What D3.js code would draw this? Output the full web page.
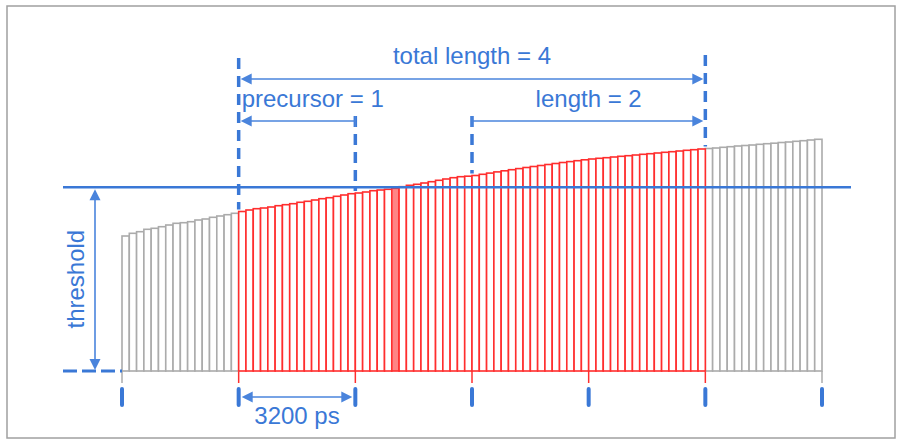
<!DOCTYPE html>
<html>
<head>
<meta charset="utf-8">
<script src="https://cdn.jsdelivr.net/npm/d3@7"></script>
<style>
  html, body { margin: 0; padding: 0; background: #fff; }
  svg { display: block; }
  text { font-family: "Liberation Sans", Arial, sans-serif; }
</style>
</head>
<body>
<svg id="chart" width="902" height="441"></svg>
<script>
// ---- data ----
const barHeights = [
  135, 137.7, 139.3, 141.7, 142.7, 144.3, 146, 147.7, 148.3, 149.3, 151, 152, 153.7, 155, 156.3, 157.7,
  159.5, 161, 162.3, 163, 164, 165.3, 166.3, 167.3, 168.7, 169.7, 171, 172.3, 173.3, 174.7, 176, 177.3,
  178, 179, 180.3, 181, 181.7, 182.7, 184.3, 185.7, 186.7, 188, 189.3, 190.7, 192, 193.3, 194.3, 194.8,
  195.5, 196.7, 197.9, 199.1, 200.2, 201.3, 202.4, 203.5, 204.5, 205.5, 206.5, 207.5, 208.5, 209.4, 210.3, 211.2,
  212, 212.7, 213.3, 214, 214.7, 215.3, 216, 216.7, 217.3, 218, 218.7, 219.3, 220, 220.7, 221.3, 222,
  222.5, 223, 223.7, 224.3, 225, 225.5, 226, 226.7, 227.3, 227.8, 228.5, 229, 229.7, 230.3, 231, 231.7
];
const thresholdValue = 183.7;
const tickIndices = [0, 16, 32, 48, 64, 80, 96];
const windowRange = [16, 80];      // red bars (total length)
const precursorRange = [16, 32];
const lengthRange = [48, 80];
const crossingIndex = 37;
const labels = {
  total: "total length = 4",
  precursor: "precursor = 1",
  length: "length = 2",
  period: "3200 ps",
  threshold: "threshold"
};

// ---- drawing ----
const svg = d3.select("#chart");
const W = 902, H = 441;
const BLUE = "#3a78d6", ARROW = "#4a84dc", RED = "#ff2e2e", GRAY = "#ababab";

svg.append("rect").attr("x", 7).attr("y", 6).attr("width", 888).attr("height", 432)
  .attr("fill", "#fff").attr("stroke", "#a0a0a0").attr("stroke-width", 1.5);

const x = d3.scaleLinear().domain([0, barHeights.length]).range([122, 822]);
const y = d3.scaleLinear().domain([0, 250]).range([371, 121]);
const base = y(0);

const inWindow = i => i >= windowRange[0] && i < windowRange[1];
const bars = barHeights.map((h, i) => ({ h, i, red: inWindow(i) }));

// tick extension lines under baseline
const tickColor = i => (i >= windowRange[0] && i <= windowRange[1]) ? RED : GRAY;
svg.append("g").selectAll("line").data(tickIndices).join("line")
  .attr("x1", d => x(d)).attr("x2", d => x(d))
  .attr("y1", base).attr("y2", base + 12)
  .attr("stroke", d => tickColor(d)).attr("stroke-width", 1.5);

// bars: gray first, then red
const gBars = svg.append("g");
gBars.selectAll("rect.gray").data(bars.filter(d => !d.red)).join("rect")
  .attr("class", "gray")
  .attr("x", d => x(d.i)).attr("width", d => x(d.i + 1) - x(d.i))
  .attr("y", d => y(d.h)).attr("height", d => base - y(d.h))
  .attr("fill", "#fff").attr("stroke", GRAY).attr("stroke-width", 1.6);
gBars.selectAll("rect.red").data(bars.filter(d => d.red)).join("rect")
  .attr("class", "red")
  .attr("x", d => x(d.i)).attr("width", d => x(d.i + 1) - x(d.i))
  .attr("y", d => y(d.h)).attr("height", d => base - y(d.h))
  .attr("fill", d => d.i === crossingIndex ? "#ff8585" : "#fff")
  .attr("stroke", RED).attr("stroke-width", 1.6);

// threshold line
const ty = y(thresholdValue);
svg.append("line").attr("x1", 63).attr("x2", 851).attr("y1", ty).attr("y2", ty)
  .attr("stroke", BLUE).attr("stroke-width", 2.5);
// dashed baseline on left
svg.append("line").attr("x1", 63).attr("x2", x(0)).attr("y1", base).attr("y2", base)
  .attr("stroke", BLUE).attr("stroke-width", 3).attr("stroke-dasharray", "14,5");

// arrowhead helper
function head(g, tipX, tipY, dir) { // dir: 'left','right','up','down'
  const L = 11, Wd = 5.5;
  let p;
  if (dir === "left") p = [[tipX, tipY], [tipX + L, tipY - Wd], [tipX + L, tipY + Wd]];
  if (dir === "right") p = [[tipX, tipY], [tipX - L, tipY - Wd], [tipX - L, tipY + Wd]];
  if (dir === "up") p = [[tipX, tipY], [tipX - Wd, tipY + L], [tipX + Wd, tipY + L]];
  if (dir === "down") p = [[tipX, tipY], [tipX - Wd, tipY - L], [tipX + Wd, tipY - L]];
  g.append("path").attr("d", "M" + p.map(q => q.join(",")).join("L") + "Z").attr("fill", ARROW);
}
function hArrow(x1, x2, yy, leftHead, rightHead) {
  const g = svg.append("g");
  g.append("line").attr("x1", x1 + (leftHead ? 4 : 0)).attr("x2", x2 - (rightHead ? 4 : 0))
    .attr("y1", yy).attr("y2", yy).attr("stroke", ARROW).attr("stroke-width", 1.6);
  if (leftHead) head(g, x1, yy, "left");
  if (rightHead) head(g, x2, yy, "right");
  return g;
}

// threshold vertical arrow
const ag = svg.append("g");
ag.append("line").attr("x1", 95).attr("x2", 95).attr("y1", ty + 5).attr("y2", base - 5)
  .attr("stroke", ARROW).attr("stroke-width", 1.6);
head(ag, 95, ty + 2, "up");
head(ag, 95, base - 1, "down");
svg.append("text").attr("transform", `translate(84, ${(ty + base) / 2}) rotate(-90)`)
  .attr("text-anchor", "middle").attr("fill", BLUE).attr("font-size", 24).text(labels.threshold);

// dashed verticals
function dashV(idx, yTop) {
  svg.append("line").attr("x1", x(idx)).attr("x2", x(idx))
    .attr("y1", yTop).attr("y2", y(barHeights[Math.min(idx, barHeights.length - 1)]) - 2)
    .attr("stroke", BLUE).attr("stroke-width", 3.5).attr("stroke-dasharray", "11,7");
}
dashV(windowRange[0], 58);
dashV(windowRange[1], 55);
dashV(precursorRange[1], 116);
dashV(lengthRange[0], 116);

// arrows
hArrow(x(windowRange[0]) + 2, x(windowRange[1]) - 2, 79, true, true);
hArrow(x(precursorRange[0]) + 2, x(precursorRange[1]), 121, true, false);
svg.append("line").attr("x1", x(precursorRange[1])).attr("x2", x(precursorRange[1]))
  .attr("y1", 116).attr("y2", 127).attr("stroke", ARROW).attr("stroke-width", 1.6);
hArrow(x(lengthRange[0]), x(lengthRange[1]) - 2, 121, false, true);
svg.append("line").attr("x1", x(lengthRange[0])).attr("x2", x(lengthRange[0]))
  .attr("y1", 116).attr("y2", 127).attr("stroke", ARROW).attr("stroke-width", 1.6);

// labels
svg.append("text").attr("x", x((windowRange[0] + windowRange[1]) / 2)).attr("y", 64)
  .attr("text-anchor", "middle").attr("fill", BLUE).attr("font-size", 24).text(labels.total);
svg.append("text").attr("x", x(precursorRange[0]) + 3).attr("y", 107)
  .attr("fill", BLUE).attr("font-size", 24).attr("xml:space", "preserve").text(labels.precursor);
svg.append("text").attr("x", x((lengthRange[0] + lengthRange[1]) / 2)).attr("y", 107)
  .attr("text-anchor", "middle").attr("fill", BLUE).attr("font-size", 24).text(labels.length);

// bottom blue ticks
svg.append("g").selectAll("line").data(tickIndices).join("line")
  .attr("x1", d => x(d)).attr("x2", d => x(d)).attr("y1", 389).attr("y2", 405)
  .attr("stroke", BLUE).attr("stroke-width", 4).attr("stroke-linecap", "round");

// period arrow
hArrow(x(tickIndices[1]) + 3, x(tickIndices[2]) - 3, 397, true, true);
svg.append("text").attr("x", (x(tickIndices[1]) + x(tickIndices[2])) / 2 + 0).attr("y", 424)
  .attr("text-anchor", "middle").attr("fill", BLUE).attr("font-size", 24).text(labels.period);
</script>
</body>
</html>
